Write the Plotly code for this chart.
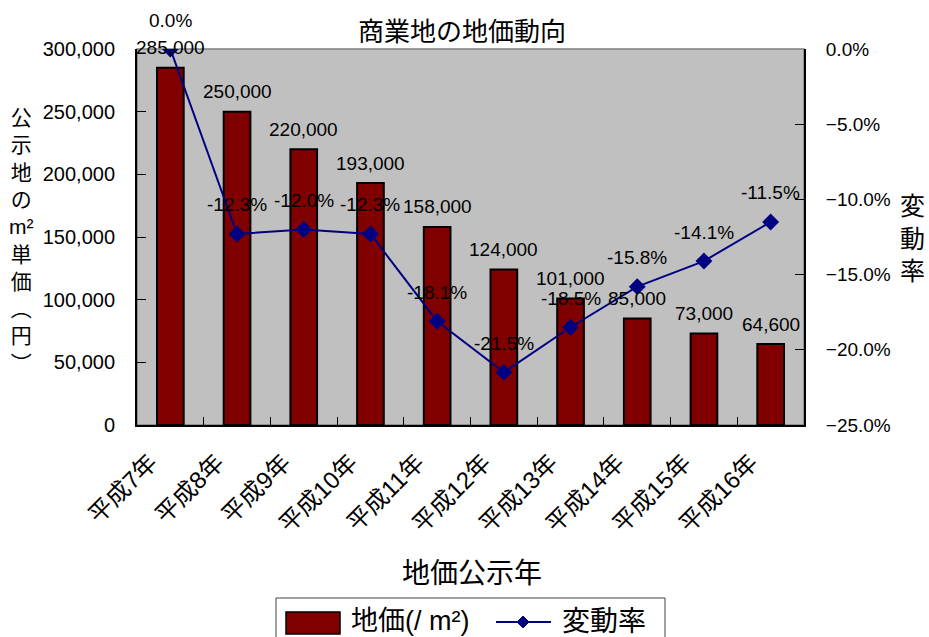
import plotly.graph_objects as go

# 地価公示データ（商業地）
years = ["平成7年", "平成8年", "平成9年", "平成10年", "平成11年",
         "平成12年", "平成13年", "平成14年", "平成15年", "平成16年"]
prices = [285000, 250000, 220000, 193000, 158000, 124000, 101000, 85000, 73000, 64600]
change_rates = [0.0, -12.3, -12.0, -12.3, -18.1, -21.5, -18.5, -15.8, -14.1, -11.5]

FONT = "Liberation Sans, Arial, Noto Sans CJK JP, sans-serif"
BAR_COLOR = "#800000"
LINE_COLOR = "#000080"

# figure geometry (pixels) used to place paper-anchored text
W, H = 929, 637
L, R, T, B = 137, 125, 49, 212
PW, PH = W - L - R, H - T - B


def px(x):
    return (x - L) / PW


def py(y):
    return (H - B - y) / PH


fig = go.Figure()

fig.add_trace(go.Bar(
    x=years, y=prices, name="地価(/ m²)",
    marker=dict(color=BAR_COLOR, line=dict(color="black", width=2)),
    width=0.4, yaxis="y", showlegend=False,
))

fig.add_trace(go.Scatter(
    x=years, y=change_rates, name="変動率", mode="lines+markers",
    line=dict(color=LINE_COLOR, width=2),
    marker=dict(symbol="diamond", size=13, color=LINE_COLOR),
    yaxis="y2", showlegend=False,
))

annotations = []

# value labels above bars
for yr, p in zip(years, prices):
    annotations.append(dict(
        x=yr, y=p, xref="x", yref="y", text=f"{p:,}", showarrow=False,
        yshift=20, font=dict(family=FONT, size=19, color="black"),
    ))

# rate labels above line points
for yr, r in zip(years, change_rates):
    annotations.append(dict(
        x=yr, y=r, xref="x", yref="y2", text=f"{r:.1f}%", showarrow=False,
        yshift=29, font=dict(family=FONT, size=19, color="black"),
    ))

# axis titles
annotations.append(dict(
    x=px(22), y=py(240), xref="paper", yref="paper",
    text="公<br>示<br>地<br>の<br>m²<br>単<br>価<br>︵<br>円<br>︶",
    showarrow=False, font=dict(family=FONT, size=21, color="black"),
    xanchor="center", yanchor="middle",
))
annotations.append(dict(
    x=px(912), y=py(238), xref="paper", yref="paper",
    text="変<br>動<br>率", showarrow=False,
    font=dict(family=FONT, size=25, color="black"),
    xanchor="center", yanchor="middle",
))
annotations.append(dict(
    x=px(472), y=py(573), xref="paper", yref="paper",
    text="地価公示年", showarrow=False,
    font=dict(family=FONT, size=28, color="black"),
    xanchor="center", yanchor="middle",
))

# legend
shapes = [
    dict(type="rect", xref="paper", yref="paper",
         x0=px(276), x1=px(665), y0=py(598), y1=py(660),
         line=dict(color="#404040", width=1), fillcolor="white", layer="above"),
    dict(type="rect", xref="paper", yref="paper",
         x0=px(286), x1=px(340), y0=py(612), y1=py(634),
         line=dict(color="black", width=1.5), fillcolor=BAR_COLOR, layer="above"),
    dict(type="line", xref="paper", yref="paper",
         x0=px(496), x1=px(551), y0=py(622), y1=py(622),
         line=dict(color=LINE_COLOR, width=2), layer="above"),
    dict(type="path", xref="paper", yref="paper",
         path=(f"M {px(523)},{py(616)} L {px(529)},{py(622)} "
               f"L {px(523)},{py(628)} L {px(517)},{py(622)} Z"),
         line=dict(color=LINE_COLOR, width=1), fillcolor=LINE_COLOR, layer="above"),
    # plot area border
    dict(type="rect", xref="paper", yref="paper", x0=0, x1=1, y0=0, y1=1,
         line=dict(color="#808080", width=1.5), layer="below"),
]
annotations.append(dict(
    x=px(349), y=py(621), xref="paper", yref="paper", text="地価(/ m²)",
    showarrow=False, xanchor="left", yanchor="middle",
    font=dict(family=FONT, size=27, color="black"),
))
annotations.append(dict(
    x=px(560), y=py(621), xref="paper", yref="paper", text="変動率",
    showarrow=False, xanchor="left", yanchor="middle",
    font=dict(family=FONT, size=28, color="black"),
))

fig.update_layout(
    width=W, height=H,
    margin=dict(l=L, r=R, t=T, b=B, autoexpand=False),
    paper_bgcolor="white",
    plot_bgcolor="#C0C0C0",
    font=dict(family=FONT, color="black"),
    title=dict(text="商業地の地価動向", x=462 / W, y=1 - 32 / H,
               xanchor="center", yanchor="middle",
               font=dict(family=FONT, size=26, color="black")),
    xaxis=dict(
        type="category", range=[-0.5, len(years) - 0.5],
        showgrid=False, showline=True, linecolor="black",
        linewidth=2, ticks="inside", tickson="boundaries", ticklen=8,
        tickcolor="black", tickangle=-45, automargin=False,
        tickfont=dict(family=FONT, size=24, color="black"),
        ticklabelstandoff=12, ticklabelshift=-20,
    ),
    yaxis=dict(
        range=[0, 300000], dtick=50000, tickformat=",", showgrid=False,
        showline=True, linecolor="black", linewidth=2, ticks="inside",
        ticklen=9, tickcolor="black", zeroline=False, automargin=False,
        tickfont=dict(family=FONT, size=20, color="black"),
        ticklabelstandoff=16,
    ),
    yaxis2=dict(
        range=[-25, 0], dtick=5, tickformat=".1f", ticksuffix="%",
        overlaying="y", side="right", showgrid=False, showline=True,
        linecolor="black", linewidth=2, ticks="inside", ticklen=9,
        tickcolor="black", zeroline=False, automargin=False,
        tickfont=dict(family=FONT, size=19, color="black"),
        ticklabelstandoff=16,
    ),
    annotations=annotations,
    shapes=shapes,
    bargap=0.6,
)

fig.write_html("out.html")
